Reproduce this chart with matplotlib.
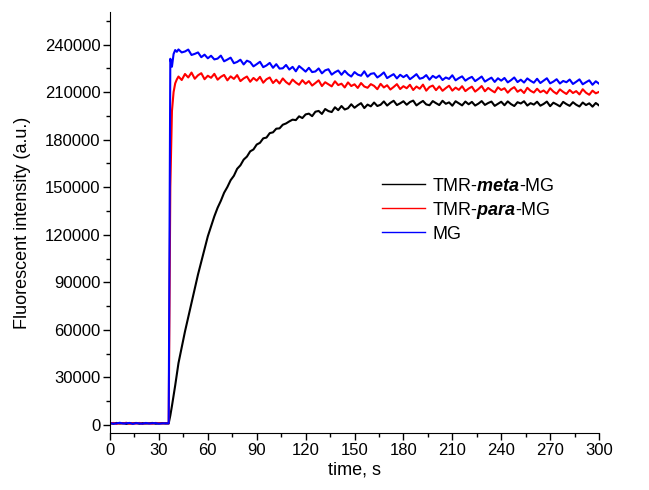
import numpy as np
import matplotlib
matplotlib.use('Agg')
import matplotlib.pyplot as plt
from matplotlib.ticker import MultipleLocator

plt.rcParams['font.family'] = ['Liberation Sans', 'DejaVu Sans']
plt.rcParams['mathtext.fontset'] = 'custom'
plt.rcParams['mathtext.it'] = 'Liberation Sans:italic:bold'
plt.rcParams['mathtext.rm'] = 'Liberation Sans'

# time axis (s): baseline, rise, main trace
t_base = np.arange(0, 35, 2)
t_rise = np.array([36, 37, 38, 39, 40, 41])
t_main = np.arange(42, 301, 2)
time = np.concatenate([t_base, t_rise, t_main])

# intensities in thousands of a.u.
meta_base = [1.1, 0.8, 1.3, 0.9, 1.2, 0.7, 1.1, 1.0, 1.3, 0.8, 1.2, 0.9, 1.1, 1.3, 0.8, 1.0, 1.2, 0.9]
meta_rise = [1.0, 6.0, 12.0, 18.5, 25.0, 32.0]
meta_main = [
    39.0, 49.0, 59.0, 68.0, 77.0, 86.0, 95.0, 103.0, 111.0, 119.0,
    125.3, 131.6, 137.0, 141.4, 146.5, 150.1, 154.4, 157.2, 161.6, 163.8,
    167.4, 169.3, 172.6, 173.8, 176.9, 178.0, 180.8, 181.3, 184.1, 184.6,
    186.9, 187.1, 189.4, 190.2, 191.5, 192.6, 192.3, 194.7, 193.6, 195.9,
    196.4, 194.8, 197.6, 198.1, 196.2, 199.3, 198.0, 197.4, 200.4, 198.6,
    201.2, 199.0, 199.8, 202.3, 200.1, 201.7, 203.0, 199.9, 202.1, 201.0,
    203.4, 201.2, 202.0, 204.1, 201.5, 203.2, 204.5, 201.8, 202.9, 204.2,
    202.0, 203.7, 204.6, 201.6, 203.1, 204.4, 202.2, 201.7, 204.3, 203.0,
    201.8, 204.5, 202.6, 203.5, 201.4, 204.2, 202.9, 201.6, 204.0, 202.3,
    203.8, 201.5, 202.7, 204.3, 201.9, 203.1, 204.0, 201.3, 202.6, 203.9,
    201.7, 204.1, 202.4, 201.2, 203.6, 202.8, 204.2, 201.5, 203.0, 202.1,
    203.9, 201.4, 202.5, 204.0, 201.1, 203.3, 202.2, 201.0, 203.8, 202.4,
    201.3, 203.6, 202.0, 200.9, 203.4, 201.8, 202.9, 200.8, 203.1, 201.6,
]

para_base = [0.9, 1.3, 0.7, 1.2, 1.0, 1.4, 0.8, 1.1, 0.9, 1.3, 0.7, 1.2, 1.0, 0.8, 1.3, 1.1, 0.9, 1.2]
para_rise = [1.0, 150.0, 198.0, 210.0, 215.5, 218.0]
para_main = [
    219.8, 217.6, 221.4, 219.2, 222.3, 218.4, 220.6, 221.9, 218.1, 220.3,
    219.0, 221.5, 217.8, 219.6, 220.8, 217.4, 219.9, 218.3, 220.7, 216.9,
    218.6, 219.8, 216.5, 218.9, 217.2, 219.6, 215.9, 218.1, 219.2, 215.7,
    217.8, 215.4, 218.6, 216.3, 214.8, 217.9, 216.0, 214.6, 217.5, 215.2,
    216.9, 214.1, 215.7, 217.4, 213.8, 216.2, 214.9, 213.6, 216.8, 214.4,
    215.3, 212.9, 216.1, 213.8, 214.9, 212.6, 215.7, 213.5, 212.7, 215.0,
    213.9, 211.8, 215.2, 212.9, 214.3, 211.6, 213.2, 215.0, 211.9, 213.7,
    212.4, 214.6, 211.3, 213.5, 212.1, 214.7, 210.9, 213.2, 214.1, 211.2,
    213.6, 210.8, 212.5, 214.0, 210.9, 212.8, 211.4, 213.7, 210.6, 212.2,
    213.4, 210.3, 211.9, 213.8, 210.5, 212.6, 211.1, 209.8, 213.0, 211.3,
    212.4, 209.6, 211.8, 213.1, 210.2, 211.5, 209.4, 212.7, 210.8, 209.7,
    212.1, 209.9, 211.0, 209.2, 212.4, 210.3, 208.9, 211.7, 210.1, 208.8,
    211.3, 209.4, 210.6, 208.5, 211.8, 209.6, 208.3, 210.9, 209.2, 210.1,
]

mg_base = [1.2, 0.8, 1.0, 1.4, 0.9, 1.1, 1.3, 0.7, 1.2, 1.0, 0.8, 1.3, 0.9, 1.1, 1.2, 0.8, 1.0, 1.1]
mg_rise = [1.0, 231.0, 226.0, 234.0, 236.5, 235.4]
mg_main = [
    236.9, 235.0, 235.6, 236.8, 233.4, 234.1, 235.0, 232.0, 233.6, 231.3,
    232.9, 230.6, 231.1, 233.0, 229.4, 230.5, 231.7, 228.2, 229.0, 230.4,
    227.4, 229.8, 228.9, 226.2, 227.6, 229.1, 225.7, 226.8, 228.4, 225.3,
    227.6, 224.8, 225.0, 227.1, 224.2, 225.9, 223.1, 226.4, 224.7, 222.9,
    225.3, 222.6, 223.0, 224.9, 221.8, 223.7, 224.4, 221.0, 222.5, 223.6,
    220.9, 223.4, 221.2, 219.8, 222.6, 221.0, 220.3, 223.1, 219.7, 221.5,
    221.9, 219.2, 220.6, 222.4, 218.8, 220.1, 221.3, 218.6, 220.9, 219.4,
    220.8, 218.1, 219.6, 221.3, 218.4, 219.0, 220.7, 217.8, 220.2, 218.9,
    220.4, 217.6, 219.2, 218.3, 220.6, 217.4, 218.8, 219.9, 217.2, 218.6,
    219.6, 216.9, 218.3, 219.8, 216.6, 217.9, 219.1, 216.4, 218.7, 217.2,
    218.9, 216.1, 217.5, 219.2, 216.3, 217.8, 216.0, 218.6, 217.1, 215.9,
    218.4, 215.7, 217.2, 218.7, 215.5, 216.6, 218.1, 215.4, 217.0, 216.2,
    217.9, 215.1, 216.5, 218.0, 214.9, 216.2, 217.4, 214.6, 216.8, 215.3,
]

meta = np.array(meta_base + meta_rise + meta_main) * 1000
para = np.array(para_base + para_rise + para_main) * 1000
mg = np.array(mg_base + mg_rise + mg_main) * 1000

fig = plt.figure(figsize=(6.49, 4.90), dpi=100)
ax = fig.add_axes([0.1695, 0.1165, 0.7535, 0.859])

ax.plot(time, meta, color='black', lw=1.5, label=r'TMR-$\mathit{meta}$-MG')
ax.plot(time, para, color='red', lw=1.5, label=r'TMR-$\mathit{para}$-MG')
ax.plot(time, mg, color='blue', lw=1.5, label='MG')

ax.set_xlim(0, 300)
ax.set_ylim(-5000, 260500)
ax.xaxis.set_major_locator(MultipleLocator(30))
ax.xaxis.set_minor_locator(MultipleLocator(15))
ax.yaxis.set_major_locator(MultipleLocator(30000))
ax.yaxis.set_minor_locator(MultipleLocator(15000))

for side in ['top', 'right']:
    ax.spines[side].set_visible(False)
ax.tick_params(which='major', direction='out', length=5, width=1, labelsize=12, pad=2)
ax.tick_params(which='minor', direction='out', length=3, width=1)

ax.set_xlabel('time, s', fontsize=13, labelpad=3)
ax.set_ylabel('Fluorescent intensity (a.u.)', fontsize=13, labelpad=10)

leg = ax.legend(loc='upper left', bbox_to_anchor=(0.522, 0.645), frameon=False,
                fontsize=13, handlelength=2.4, handletextpad=0.4, labelspacing=0.28)
for line in leg.get_lines():
    line.set_linewidth(1.0)

plt.savefig('out.png', dpi=100)
plt.close()
